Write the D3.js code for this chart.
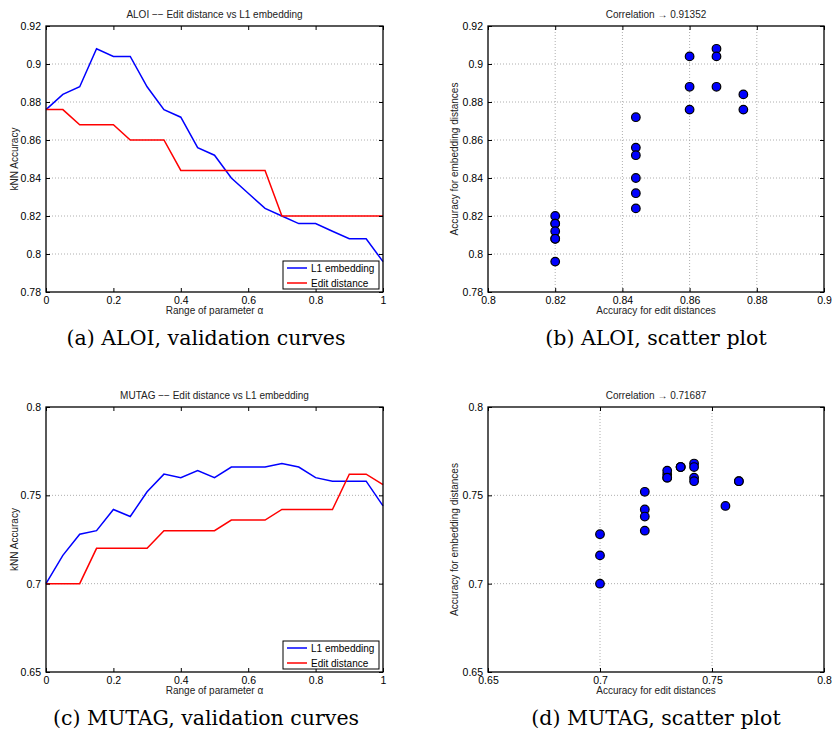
<!DOCTYPE html>
<html lang="en">
<head>
  <meta charset="UTF-8">
  <title>Edit distance vs L1 embedding</title>
  <style>
    body {
      margin: 0;
      background: #fff;
    }
    svg {
      display: block;
      font-family: 'Liberation Sans', Arial, sans-serif;
    }
    .caption {
      font-family: 'DejaVu Serif', 'Liberation Serif', serif;
      font-size: 20.5px;
      fill: #000;
    }
  </style>
</head>
<body>

<svg width="832" height="731"></svg>

<script src="https://d3js.org/d3.v7.min.js"></script>
<script>
// parameter alpha, shared by both datasets
const alpha = [0, 0.05, 0.1, 0.15, 0.2, 0.25, 0.3, 0.35, 0.4, 0.45, 0.5,
               0.55, 0.6, 0.65, 0.7, 0.75, 0.8, 0.85, 0.9, 0.95, 1];

// ALOI
const aloiL1 = [0.876, 0.884, 0.888, 0.908, 0.904, 0.904, 0.888, 0.876, 0.872, 0.856, 0.852,
                0.840, 0.832, 0.824, 0.820, 0.816, 0.816, 0.812, 0.808, 0.808, 0.796];
const aloiEdit = [0.876, 0.876, 0.868, 0.868, 0.868, 0.860, 0.860, 0.860, 0.844, 0.844, 0.844,
                  0.844, 0.844, 0.844, 0.820, 0.820, 0.820, 0.820, 0.820, 0.820, 0.820];

// MUTAG
const mutagL1 = [0.700, 0.716, 0.728, 0.730, 0.742, 0.738, 0.752, 0.762, 0.760, 0.764, 0.760,
                 0.766, 0.766, 0.766, 0.768, 0.766, 0.760, 0.758, 0.758, 0.758, 0.744];
const mutagEdit = [0.700, 0.700, 0.700, 0.720, 0.720, 0.720, 0.720, 0.730, 0.730, 0.730, 0.730,
                   0.736, 0.736, 0.736, 0.742, 0.742, 0.742, 0.742, 0.762, 0.762, 0.756];

const alphaTicks = [0, 0.2, 0.4, 0.6, 0.8, 1];
const aloiAccTicks = [0.78, 0.8, 0.82, 0.84, 0.86, 0.88, 0.9, 0.92];
const aloiEditTicks = [0.8, 0.82, 0.84, 0.86, 0.88, 0.9];
const mutagAccTicks = [0.65, 0.7, 0.75, 0.8];

const legendNames = ["L1 embedding", "Edit distance"];
const seriesColors = ["#0000ff", "#ff0000"];

const svg = d3.select("svg");
const fmt = d => String(+d.toFixed(3));

function frame(box, x, y, xTicks, yTicks, vGrid) {
  const g = svg.append("g");
  const grid = g.append("g")
    .attr("stroke", "#999")
    .attr("stroke-width", 0.8)
    .attr("stroke-dasharray", "1,2");
  grid.selectAll("line.h")
    .data(yTicks.slice(1, -1))
    .join("line")
    .attr("x1", box.l).attr("x2", box.r)
    .attr("y1", d => y(d)).attr("y2", d => y(d));
  if (vGrid) {
    grid.selectAll("line.v")
      .data(xTicks.slice(1, -1))
      .join("line")
      .attr("y1", box.t).attr("y2", box.b)
      .attr("x1", d => x(d)).attr("x2", d => x(d));
  }
  return g;
}

function axes(g, box, x, y, xTicks, yTicks) {
  const ax = g.append("g");
  ax.append("g").attr("transform", `translate(0,${box.b})`)
    .call(d3.axisBottom(x).tickValues(xTicks).tickSizeInner(-4).tickSizeOuter(0).tickPadding(5).tickFormat(fmt));
  ax.append("g").attr("transform", `translate(0,${box.t})`)
    .call(d3.axisTop(x).tickValues(xTicks).tickSizeInner(-4).tickSizeOuter(0).tickFormat(""));
  ax.append("g").attr("transform", `translate(${box.l},0)`)
    .call(d3.axisLeft(y).tickValues(yTicks).tickSizeInner(-4).tickSizeOuter(0).tickPadding(5).tickFormat(fmt));
  ax.append("g").attr("transform", `translate(${box.r},0)`)
    .call(d3.axisRight(y).tickValues(yTicks).tickSizeInner(-4).tickSizeOuter(0).tickFormat(""));
  ax.selectAll(".domain").remove();
  ax.selectAll("line").attr("stroke", "#000");
  ax.selectAll("text").attr("font-size", 10.5).attr("fill", "#000").attr("font-family", null);
  g.append("rect")
    .attr("x", box.l).attr("y", box.t)
    .attr("width", box.r - box.l).attr("height", box.b - box.t)
    .attr("fill", "none").attr("stroke", "#000").attr("stroke-width", 1.3);
}

function labels(g, box, title, xLabel, yLabel, yLabelX) {
  const cx = (box.l + box.r) / 2;
  g.append("text").attr("x", cx).attr("y", box.t - 8)
    .attr("text-anchor", "middle").attr("font-size", 10).attr("fill", "#222").text(title);
  g.append("text").attr("x", cx).attr("y", box.b + 22)
    .attr("text-anchor", "middle").attr("font-size", 10).attr("fill", "#222").text(xLabel);
  g.append("text")
    .attr("transform", `translate(${yLabelX},${(box.t + box.b) / 2}) rotate(-90)`)
    .attr("text-anchor", "middle").attr("font-size", 10).attr("fill", "#222").text(yLabel);
}

function linePanel(box, yDomain, yTicks, series, title) {
  const x = d3.scaleLinear().domain([0, 1]).range([box.l, box.r]);
  const y = d3.scaleLinear().domain(yDomain).range([box.b, box.t]);
  const g = frame(box, x, y, alphaTicks, yTicks, false);
  const line = d3.line().x((d, i) => x(alpha[i])).y(d => y(d));
  g.selectAll("path.series")
    .data(series)
    .join("path")
    .attr("d", d => line(d))
    .attr("fill", "none")
    .attr("stroke", (d, i) => seriesColors[i])
    .attr("stroke-width", 1.5);
  axes(g, box, x, y, alphaTicks, yTicks);
  labels(g, box, title, "Range of parameter \u03b1", "kNN Accuracy", 18);

  // legend, lower right
  const lg = g.append("g").attr("transform", `translate(${box.r - 100},${box.b - 31})`);
  lg.append("rect").attr("x", 0).attr("y", 0).attr("width", 96).attr("height", 28)
    .attr("fill", "#fff").attr("stroke", "#000").attr("stroke-width", 1);
  legendNames.forEach((name, i) => {
    const yy = 7 + i * 15;
    lg.append("line").attr("x1", 4).attr("x2", 24).attr("y1", yy).attr("y2", yy)
      .attr("stroke", seriesColors[i]).attr("stroke-width", 1.5);
    lg.append("text").attr("x", 28).attr("y", yy + 3.5)
      .attr("font-size", 10).attr("fill", "#000").text(name);
  });
}

function scatterPanel(box, xDomain, xTicks, yDomain, yTicks, editVals, l1Vals, title) {
  const x = d3.scaleLinear().domain(xDomain).range([box.l, box.r]);
  const y = d3.scaleLinear().domain(yDomain).range([box.b, box.t]);
  const g = frame(box, x, y, xTicks, yTicks, true);
  g.append("g").selectAll("circle")
    .data(editVals.map((e, i) => [e, l1Vals[i]]))
    .join("circle")
    .attr("cx", d => x(d[0]))
    .attr("cy", d => y(d[1]))
    .attr("r", 4.3)
    .attr("fill", "#0000ff")
    .attr("stroke", "#000")
    .attr("stroke-width", 1.2);
  axes(g, box, x, y, xTicks, yTicks);
  labels(g, box, title, "Accuracy for edit distances", "Accuracy for embedding distances", box.l - 30);
}

const boxA = {l: 46, r: 383, t: 26, b: 292};
const boxB = {l: 488, r: 824, t: 26, b: 292};
const boxC = {l: 46, r: 383, t: 407, b: 672};
const boxD = {l: 488, r: 824, t: 407, b: 672};

linePanel(boxA, [0.78, 0.92], aloiAccTicks, [aloiL1, aloiEdit], "ALOI \u2212\u2212 Edit distance vs L1 embedding");
scatterPanel(boxB, [0.8, 0.9], aloiEditTicks, [0.78, 0.92], aloiAccTicks, aloiEdit, aloiL1, "Correlation \u2192 0.91352");
linePanel(boxC, [0.65, 0.8], mutagAccTicks, [mutagL1, mutagEdit], "MUTAG \u2212\u2212 Edit distance vs L1 embedding");
scatterPanel(boxD, [0.65, 0.8], mutagAccTicks, [0.65, 0.8], mutagAccTicks, mutagEdit, mutagL1, "Correlation \u2192 0.71687");

const captions = [
  {x: 206, y: 345, text: "(a) ALOI, validation curves"},
  {x: 656, y: 345, text: "(b) ALOI, scatter plot"},
  {x: 206, y: 725, text: "(c) MUTAG, validation curves"},
  {x: 656, y: 725, text: "(d) MUTAG, scatter plot"}
];
svg.selectAll("text.caption")
  .data(captions)
  .join("text")
  .attr("class", "caption")
  .attr("x", d => d.x).attr("y", d => d.y)
  .attr("text-anchor", "middle")
  .text(d => d.text);
</script>

</body>
</html>
